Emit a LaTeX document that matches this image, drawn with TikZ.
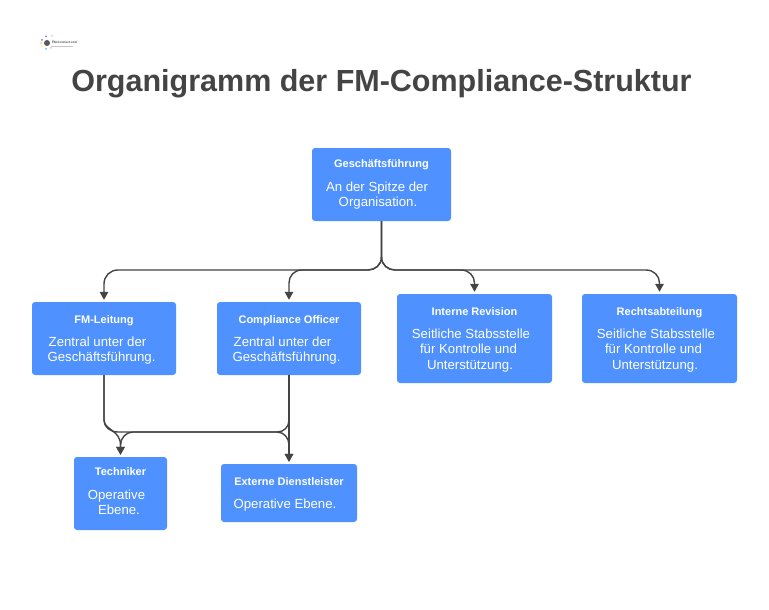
\documentclass[tikz,border=0pt]{standalone}
\usepackage{fontspec}
\setmainfont{Liberation Sans}
\usetikzlibrary{arrows.meta}
\definecolor{boxblue}{HTML}{4F92FF}
\definecolor{ink}{HTML}{444444}
\newcommand{\bx}[2]{{\fontsize{11}{14}\selectfont\bfseries\rule{0pt}{10.5pt}#1}\\[7.5pt]#2}
\newcommand{\ls}[2]{#2\kern #1pt\relax}
\tikzset{
  x=1pt,y=-1pt,
  box/.style={fill=boxblue,rounded corners=3pt,text=white,align=center,inner sep=0pt,
    font=\fontsize{13.2}{15.6}\selectfont},
  link/.style={draw=ink,line width=1.4pt,shorten >=2pt,-{Triangle[length=8pt,width=8.5pt]}},
}
\begin{document}
\begin{tikzpicture}
\useasboundingbox (0,0) rectangle (769,610);
\fill[white] (0,0) rectangle (769,610);
% logo
\foreach \px/\py/\c in {46/36.5/blue!55,42/40/violet!60,42/46/yellow!60,46/49/cyan!70,52/36/pink,51/48/orange!40,41/43/red!25,53/41/teal!30}
  \fill[\c] (\px,\py) circle (1pt);
\fill[gray!70!black] (47,43) circle (3pt);
\node[anchor=west,inner sep=0pt,text=gray!60!black,font=\fontsize{3.1}{4}\selectfont\bfseries] (logo) at (52,42.3) {FM-Connect.com};
\fill[gray!45] (51,45.6) rectangle (73,46.4);
% title
\node[inner sep=0pt,text=ink,font=\fontsize{30.5}{36}\selectfont\bfseries] (title) at (381.5,84) {Organigramm der FM-Compliance-Struktur};
% boxes
\node[box,minimum width=139pt,minimum height=73pt] (gf) at (381.5,184.5) {\bx{Geschäftsführung}{\ls{9}{An der Spitze der}\\\ls{7}{Organisation.}\rule[-5pt]{0pt}{5pt}}};
\node[box,minimum width=144pt,minimum height=73pt] (fm) at (104,338.5) {\bx{FM-Leitung}{\ls{13}{Zentral unter der}\\\ls{5}{Geschäftsführung.}}};
\node[box,minimum width=144pt,minimum height=73pt] (co) at (289,338.5) {\bx{Compliance Officer}{\ls{13}{Zentral unter der}\\\ls{5}{Geschäftsführung.}}};
\node[box,minimum width=155pt,minimum height=89pt] (ir) at (474.5,338.5) {\bx{Interne Revision}{\ls{7}{Seitliche Stabsstelle}\\\ls{12}{für Kontrolle und}\\\ls{9}{Unterstützung.}}};
\node[box,minimum width=155pt,minimum height=89pt] (ra) at (659.5,338.5) {\bx{Rechtsabteilung}{\ls{7}{Seitliche Stabsstelle}\\\ls{12}{für Kontrolle und}\\\ls{9}{Unterstützung.}}};
\node[box,minimum width=93pt,minimum height=73pt] (te) at (120.5,493.5) {\bx{Techniker}{\ls{8}{Operative}\\\ls{3}{Ebene.}\rule[-7pt]{0pt}{7pt}}};
\node[box,minimum width=136pt,minimum height=58pt] (ex) at (289,493) {\bx{Externe Dienstleister}{\ls{8}{Operative Ebene.}}};
% connectors
\draw[link] (gf.south) -- (381.5,257) .. controls (381.5,265) and (375,270) .. (368,270) -- (118,270) .. controls (110,270) and (104,276) .. (104,284) -- (fm.north);
\draw[link] (gf.south) -- (381.5,257) .. controls (381.5,265) and (375,270) .. (368,270) -- (302,270) .. controls (294,270) and (289,276) .. (289,283) -- (co.north);
\draw[link] (gf.south) -- (381.5,257) .. controls (381.5,265) and (388,270) .. (395,270) -- (461,270) .. controls (469,270) and (474.5,276) .. (474.5,283) -- (ir.north);
\draw[link] (gf.south) -- (381.5,257) .. controls (381.5,265) and (388,270) .. (395,270) -- (646,270) .. controls (654,270) and (659.5,276) .. (659.5,283) -- (ra.north);
\draw[link] (fm.south) -- (104,420) .. controls (104,430) and (120.5,430) .. (120.5,445) -- (te.north);
\draw[link] (co.south) -- (289,420) .. controls (289,427) and (284,432) .. (277,432) -- (133,432) .. controls (126,432) and (120.5,438) .. (120.5,445) -- (te.north);
\draw[link] (fm.south) -- (104,420) .. controls (104,427) and (110,432) .. (118,432) -- (277,432) .. controls (284,432) and (289,438) .. (289,445) -- (ex.north);
\draw[link] (co.south) -- (ex.north);
\end{tikzpicture}
\end{document}
